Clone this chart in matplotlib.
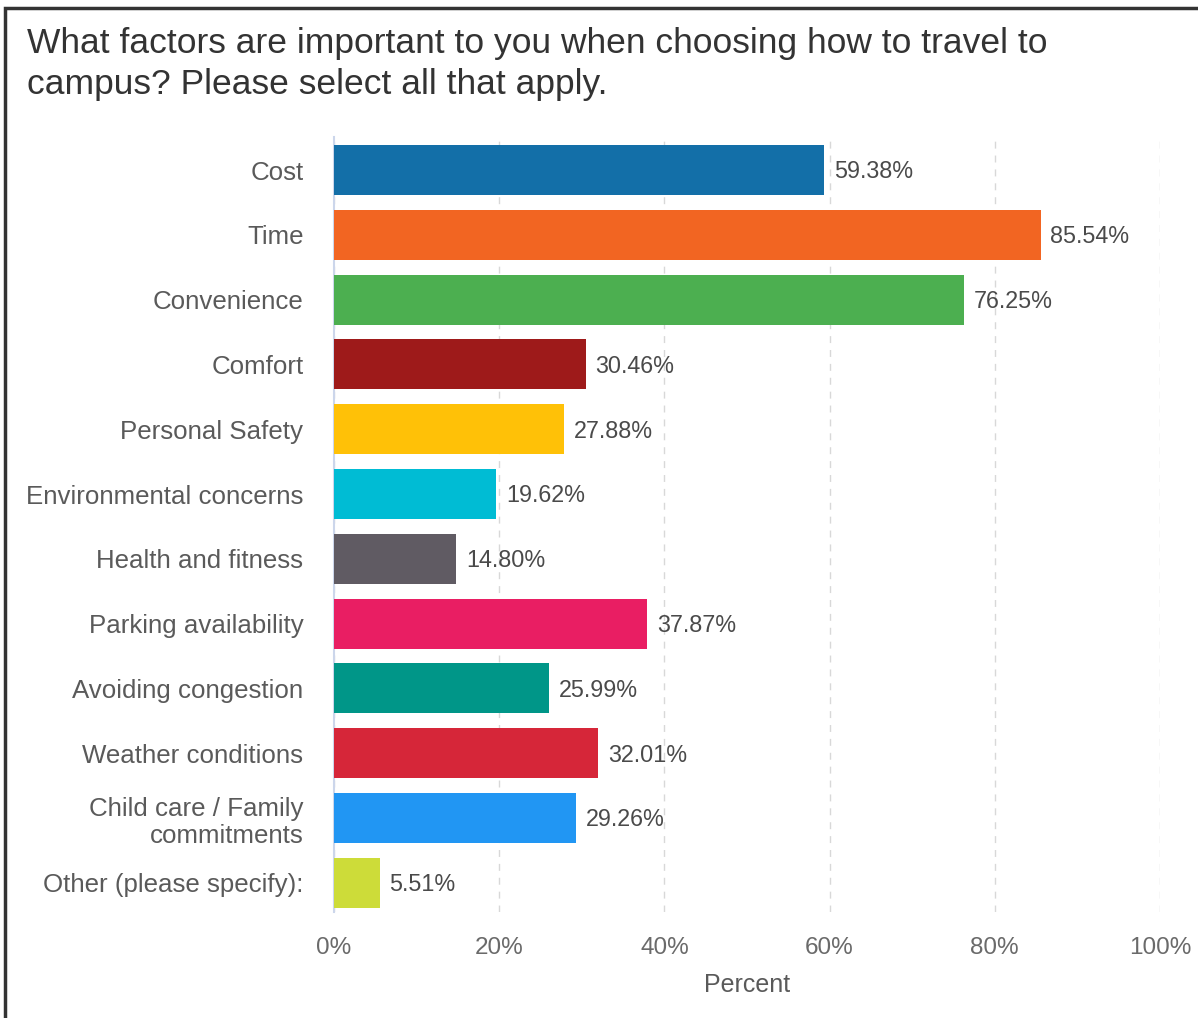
import matplotlib.pyplot as plt
from matplotlib.patches import Rectangle

plt.rcParams['font.family'] = ['Liberation Sans', 'DejaVu Sans']

# Data
factors = ['Cost', 'Time', 'Convenience', 'Comfort', 'Personal Safety',
           'Environmental concerns', 'Health and fitness', 'Parking availability',
           'Avoiding congestion', 'Weather conditions',
           'Child care / Family\ncommitments', 'Other (please specify):']
percent = [59.38, 85.54, 76.25, 30.46, 27.88, 19.62, 14.80, 37.87, 25.99, 32.01, 29.26, 5.51]
colors = ['#136fa8', '#f26522', '#4caf50', '#9e1a1a', '#ffc107', '#00bcd4',
          '#605b63', '#e91e63', '#009688', '#d62639', '#2196f3', '#cddc39']
xticks = [0, 20, 40, 60, 80, 100]
xtick_labels = ['0%', '20%', '40%', '60%', '80%', '100%']

W, H = 1198, 1018
fig = plt.figure(figsize=(W / 100, H / 100), dpi=100)
ax = fig.add_axes([334 / W, 1 - 912 / H, (1160 - 334) / W, (912 - 137) / H])

ypos = list(range(len(factors)))
ax.barh(ypos, percent, height=0.77, color=colors, zorder=3)
for y, v in zip(ypos, percent):
    ax.text(v + 1.2, y + 0.03, f'{v:.2f}%', va='center', ha='left', fontsize=16.8, color='#4a4a4a')

ax.set_xlim(0, 100)
ax.set_ylim(11.45, -0.51)
ax.set_yticks(ypos)
ax.set_yticklabels(factors, fontsize=18.6, color='#5a5a5a', ha='right')
ax.set_xticks(xticks)
ax.set_xticklabels(xtick_labels, fontsize=17.5, color='#6a6a6a')
ax.tick_params(axis='y', length=0, pad=22)
ax.tick_params(axis='x', length=0, pad=18)
ax.set_xlabel('Percent', fontsize=18, color='#5a5a5a', labelpad=10)

ax.grid(axis='x', linestyle=(0, (5, 5)), color='#d8d8d8', linewidth=1, zorder=0)
for s in ['top', 'right', 'bottom']:
    ax.spines[s].set_visible(False)
ax.spines['left'].set_color('#ccd6eb')
ax.spines['left'].set_linewidth(1.5)

fig.text(27 / W, 1 - 27 / H,
         'What factors are important to you when choosing how to travel to\ncampus? Please select all that apply.',
         fontsize=25.5, color='#333333', va='top', ha='left', linespacing=1.3)

# frame border
fig.patches.append(Rectangle((5 / W, -0.1), 1.2, 1 - 8 / H + 0.1, transform=fig.transFigure,
                             fill=False, edgecolor='#333333', linewidth=2.5))

fig.savefig('out.png', dpi=100)
